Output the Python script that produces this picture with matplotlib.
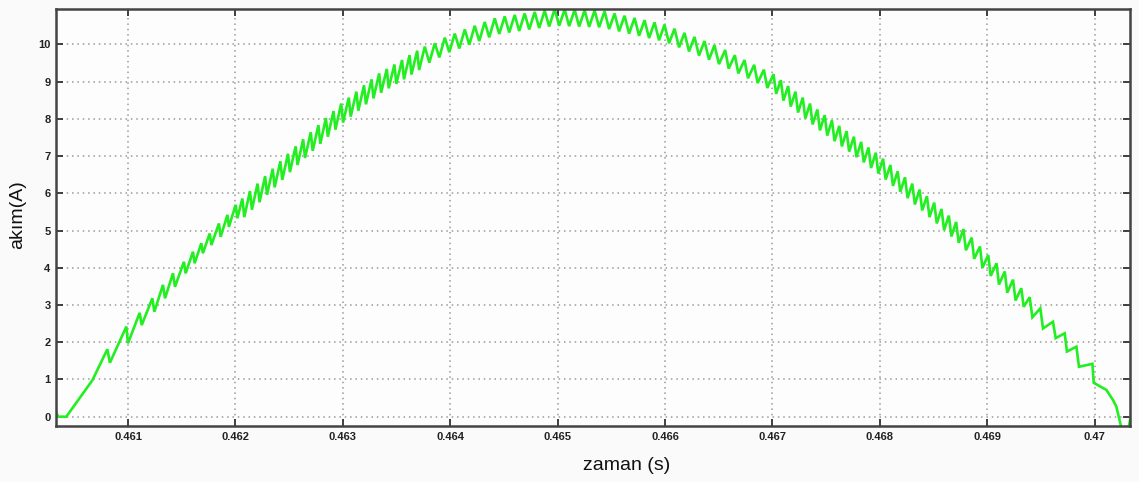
import numpy as np
import matplotlib
matplotlib.use("Agg")
import matplotlib.pyplot as plt

# ---- data (time in ms, current in A) ----
t_rise_ms = [460.327, 460.350, 460.426, 460.513, 460.669, 460.808, 460.832, 460.985, 461.000,
             461.109, 461.128, 461.227, 461.246, 461.326, 461.345, 461.419, 461.438, 461.521,
             461.537, 461.605, 461.621, 461.683, 461.698, 461.761, 461.777, 461.847, 461.863,
             461.926, 461.940, 462.003, 462.019, 462.065, 462.083,
             462.136, 462.154, 462.207, 462.225, 462.277, 462.295, 462.348, 462.366,
             462.419, 462.437, 462.490, 462.508, 462.561, 462.579, 462.631, 462.649,
             462.702, 462.720, 462.773, 462.791, 462.843, 462.861, 462.914, 462.932,
             462.985, 463.003, 463.056, 463.074, 463.127, 463.145, 463.198, 463.216,
             463.268, 463.286, 463.339, 463.357, 463.410, 463.428, 463.481, 463.499,
             463.552, 463.570, 463.622, 463.640, 463.693, 463.711, 463.764]
i_rise = [0.15, 0.0, 0.0, 0.35, 0.98, 1.81, 1.45, 2.42, 1.97,
          2.79, 2.46, 3.18, 2.82, 3.54, 3.18, 3.85, 3.49, 4.16,
          3.85, 4.43, 4.12, 4.66, 4.39, 4.92, 4.61, 5.19, 4.83,
          5.42, 5.10, 5.69, 5.33, 5.86, 5.36,
          6.06, 5.56, 6.26, 5.76, 6.46, 5.96, 6.66, 6.16,
          6.86, 6.36, 7.06, 6.57, 7.26, 6.76, 7.45, 6.95,
          7.64, 7.14, 7.83, 7.33, 8.02, 7.52, 8.21, 7.71,
          8.41, 7.90, 8.57, 8.06, 8.73, 8.22, 8.90, 8.39,
          9.06, 8.55, 9.22, 8.70, 9.34, 8.82, 9.46, 8.94,
          9.58, 9.06, 9.71, 9.19, 9.83, 9.31, 9.94]

t_top_ms = [463.806,
            463.857, 463.899, 463.950, 463.992, 464.043, 464.085, 464.136, 464.178,
            464.229, 464.271, 464.322, 464.364, 464.415, 464.457, 464.508, 464.550,
            464.601, 464.643, 464.694, 464.736, 464.787, 464.829, 464.880, 464.922,
            464.973, 465.015, 465.066, 465.108, 465.159, 465.201, 465.252, 465.294,
            465.345, 465.387, 465.438, 465.480, 465.531, 465.573, 465.624, 465.666,
            465.717, 465.759, 465.810, 465.852, 465.903, 465.945, 465.996, 466.038,
            466.089, 466.131, 466.182, 466.224, 466.275, 466.317, 466.368, 466.410,
            466.461, 466.503]
i_top = [9.51,
         10.03, 9.65, 10.18, 9.79, 10.29, 9.89, 10.40, 9.99,
         10.50, 10.09, 10.60, 10.19, 10.70, 10.28, 10.75, 10.32,
         10.79, 10.36, 10.83, 10.40, 10.87, 10.44, 10.91, 10.48,
         10.95, 10.50, 10.94, 10.49, 10.93, 10.48, 10.92, 10.47,
         10.91, 10.46, 10.89, 10.41, 10.83, 10.35, 10.77, 10.29,
         10.71, 10.23, 10.65, 10.17, 10.59, 10.11, 10.53, 10.03,
         10.42, 9.92, 10.31, 9.81, 10.20, 9.70, 10.09, 9.59,
         9.98, 9.47]

t_fall_ms = [466.561, 466.593, 466.651, 466.683, 466.741, 466.773, 466.831, 466.863,
             466.921, 466.953, 467.011, 467.035,
             467.079, 467.103, 467.147, 467.171, 467.215, 467.239, 467.283, 467.307,
             467.351, 467.375, 467.419, 467.443, 467.487, 467.511, 467.555, 467.579,
             467.623, 467.647, 467.691, 467.715, 467.759, 467.783, 467.827, 467.851,
             467.895, 467.919, 467.963, 467.987, 468.031, 468.055, 468.099, 468.123,
             468.167, 468.191, 468.235, 468.259, 468.303, 468.327, 468.371, 468.395,
             468.439, 468.463, 468.507, 468.531, 468.575, 468.599, 468.643, 468.667,
             468.711, 468.735, 468.779, 468.802,
             468.856, 468.879, 468.933, 468.956, 469.010, 469.033, 469.087, 469.110,
             469.164, 469.187, 469.241, 469.264,
             469.318, 469.340, 469.396, 469.421, 469.495, 469.520, 469.613, 469.638,
             469.722, 469.743, 469.831, 469.855, 469.980, 469.992, 470.110, 470.171,
             470.203, 470.250, 470.311, 470.336]
i_fall = [9.85, 9.35, 9.71, 9.22, 9.58, 9.09, 9.45, 8.96,
          9.32, 8.83, 9.20, 8.67,
          9.04, 8.49, 8.88, 8.33, 8.73, 8.17, 8.57, 8.01,
          8.41, 7.85, 8.25, 7.69, 8.10, 7.55, 7.96, 7.40,
          7.81, 7.26, 7.67, 7.12, 7.52, 6.97, 7.38, 6.83,
          7.23, 6.68, 7.09, 6.53, 6.93, 6.37, 6.76, 6.20,
          6.59, 6.04, 6.43, 5.87, 6.26, 5.70, 6.10, 5.54,
          5.92, 5.36, 5.75, 5.19, 5.58, 5.01, 5.40, 4.84,
          5.23, 4.67, 5.04, 4.47,
          4.81, 4.24, 4.57, 4.00, 4.34, 3.78, 4.12, 3.55,
          3.90, 3.33, 3.68, 3.12,
          3.45, 2.95, 3.21, 2.67, 2.91, 2.37, 2.55, 2.11,
          2.24, 1.75, 1.88, 1.34, 1.42, 0.91, 0.72, 0.45,
          0.27, -0.30, -0.40, 0.00]

x_ticks = [0.461, 0.462, 0.463, 0.464, 0.465, 0.466, 0.467, 0.468, 0.469, 0.470]
x_tick_labels = ["0.461", "0.462", "0.463", "0.464", "0.465", "0.466", "0.467", "0.468", "0.469", "0.47"]
y_ticks = [0, 1, 2, 3, 4, 5, 6, 7, 8, 9, 10]

# ---- plotting ----
t = np.concatenate([t_rise_ms, t_top_ms, t_fall_ms]) / 1000.0
i = np.concatenate([i_rise, i_top, i_fall])

plt.rcParams['font.family'] = ['Liberation Sans', 'DejaVu Sans']

W, H = 1139, 482
fig = plt.figure(figsize=(W / 100, H / 100), dpi=100, facecolor='#fafafa')
ax = fig.add_axes([56 / W, 1 - 426 / H, (1130 - 56) / W, (426 - 9) / H])
ax.set_facecolor('#fdfdfd')

ax.plot(t, i, color='#22ee22', linewidth=1.9, solid_joinstyle='miter')

ax.set_xlim(0.46033, 0.47033)
ax.set_ylim(-0.25, 10.95)
ax.set_xticks(x_ticks)
ax.set_xticklabels(x_tick_labels)
ax.set_yticks(y_ticks)

ax.grid(True, color='#9a9a9a', linestyle=(0, (1, 2.5)), linewidth=1.1)
ax.tick_params(direction='in', top=True, right=True, length=5, width=1.3,
               color='#333333', labelsize=8, labelcolor='#222222', pad=4)
for lab in ax.get_xticklabels() + ax.get_yticklabels():
    lab.set_fontweight('bold')
for sp in ax.spines.values():
    sp.set_color('#444444')
    sp.set_linewidth(1.8)

fig.text(18 / W, 1 - 215 / H, 'akım(A)', rotation=90, ha='center', va='center',
         fontsize=14, color='#111111')
fig.text(627 / W, 1 - 465 / H, 'zaman (s)', ha='center', va='center',
         fontsize=14, color='#111111')

fig.savefig('out.png', dpi=100, facecolor=fig.get_facecolor())
